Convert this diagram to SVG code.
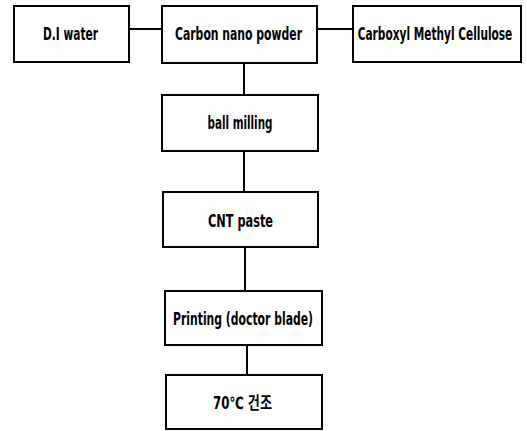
<svg xmlns="http://www.w3.org/2000/svg" width="527" height="431" viewBox="0 0 527 431">
<style>
.box{fill:#fff;stroke:#000;stroke-width:2}
.lbl{font-family:"Liberation Sans Narrow","DejaVu Sans Condensed","Liberation Sans","Noto Sans CJK KR",sans-serif;font-weight:bold;font-size:17px;fill:#000;text-anchor:middle}
.con{stroke:#000;stroke-width:2;fill:none}
</style>
<rect width="527" height="431" fill="#fff"/>
<g id="connectors">
<line class="con" x1="129" y1="29" x2="162" y2="29"/>
<line class="con" x1="317" y1="29" x2="353" y2="29"/>
<line class="con" x1="244" y1="63" x2="244" y2="95"/>
<line class="con" x1="244" y1="151" x2="244" y2="192"/>
<line class="con" x1="245" y1="247" x2="245" y2="291"/>
<line class="con" x1="247" y1="345" x2="247" y2="375"/>
</g>
<g id="di-water">
<rect class="box" x="14" y="6" width="115" height="56"/>
<text class="lbl" x="70.5" y="40" textLength="55" lengthAdjust="spacingAndGlyphs">D.I water</text>
</g>
<g id="carbon-nano-powder">
<rect class="box" x="162" y="6" width="155" height="57"/>
<text class="lbl" x="238.5" y="40" textLength="127" lengthAdjust="spacingAndGlyphs">Carbon nano powder</text>
</g>
<g id="cmc">
<rect class="box" x="353" y="6" width="168" height="56"/>
<text class="lbl" transform="translate(435 40) scale(0.69 1)" x="0" y="0" textLength="224" lengthAdjust="spacingAndGlyphs">Carboxyl Methyl Cellulose</text>
</g>
<g id="ball-milling">
<rect class="box" x="162" y="95" width="156" height="56"/>
<text class="lbl" x="240" y="129" textLength="65" lengthAdjust="spacingAndGlyphs">ball milling</text>
</g>
<g id="cnt-paste">
<rect class="box" x="163" y="192" width="155" height="55"/>
<text class="lbl" x="240.5" y="227" textLength="65" lengthAdjust="spacingAndGlyphs">CNT paste</text>
</g>
<g id="printing">
<rect class="box" x="165" y="291" width="157" height="54"/>
<text class="lbl" x="243" y="325" textLength="140" lengthAdjust="spacingAndGlyphs">Printing (doctor blade)</text>
</g>
<g id="drying">
<rect class="box" x="166" y="375" width="156" height="54"/>
<text class="lbl" x="242.5" y="409" textLength="59" lengthAdjust="spacingAndGlyphs">70℃ 건조</text>
</g>
</svg>
